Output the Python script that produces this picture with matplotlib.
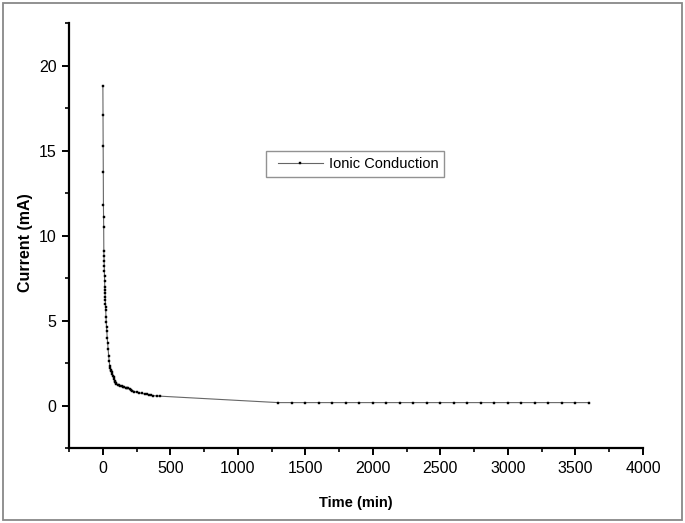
import matplotlib
matplotlib.use("Agg")
import matplotlib.pyplot as plt
from matplotlib.patches import Rectangle
from matplotlib.ticker import MultipleLocator
from matplotlib.legend_handler import HandlerLine2D

plt.rcParams['font.family'] = ['Liberation Sans', 'DejaVu Sans']

# Time (min)
time_min = [1, 2, 3, 4, 5, 6, 7, 8, 9, 10, 11, 12,
            13, 14, 15, 16, 17, 18, 19, 20, 21, 22,
            24, 26, 28, 30, 33, 36, 40, 44, 48, 52,
            56, 60, 64, 68, 72, 76, 80, 84, 88, 92, 96, 101,
            110, 120, 130, 140, 150, 160, 170, 180, 190, 200,
            210, 220, 235, 250, 270, 290, 310, 330, 345, 360, 375, 400, 423,
            1300, 1400, 1500, 1600, 1700, 1800, 1900, 2000, 2100, 2200,
            2300, 2400, 2500, 2600, 2700, 2800, 2900, 3000, 3100, 3200,
            3300, 3400, 3500, 3600]
# Current (mA)
current_ma = [18.8, 17.1, 15.25, 13.76, 11.8, 11.1, 10.5, 9.1, 8.8, 8.5, 8.2, 7.9,
              7.6, 7.3, 7.0, 6.8, 6.6, 6.4, 6.2, 6.0, 5.8, 5.6,
              5.2, 4.9, 4.6, 4.4, 4.0, 3.7, 3.3, 2.9, 2.6, 2.3,
              2.2, 2.1, 2.05, 1.95, 1.85, 1.75, 1.65, 1.55, 1.45, 1.38, 1.32, 1.27,
              1.22, 1.18, 1.15, 1.12, 1.1, 1.08, 1.05, 1.03, 1.01, 0.98,
              0.93, 0.88, 0.82, 0.78, 0.74, 0.71, 0.68, 0.65, 0.62, 0.6, 0.58, 0.56, 0.55,
              0.17, 0.17, 0.17, 0.17, 0.17, 0.17, 0.17, 0.17, 0.17, 0.17,
              0.17, 0.17, 0.17, 0.17, 0.17, 0.17, 0.17, 0.17, 0.17, 0.17,
              0.17, 0.17, 0.17, 0.17]

x_ticks = [0, 500, 1000, 1500, 2000, 2500, 3000, 3500, 4000]
y_ticks = [0, 5, 10, 15, 20]

fig = plt.figure(figsize=(6.85, 5.23), dpi=100)
ax = fig.add_axes([0.1007, 0.1434, 0.838, 0.8126])

ax.plot(time_min, current_ma, color='#666666', linewidth=0.8,
        marker='s', markersize=2.1, markerfacecolor='black',
        markeredgecolor='black', markeredgewidth=0.3,
        label='Ionic Conduction')

ax.set_xlim(-250, 4000)
ax.set_ylim(-2.5, 22.5)
ax.set_xticks(x_ticks)
ax.set_yticks(y_ticks)
ax.xaxis.set_minor_locator(MultipleLocator(250))
ax.yaxis.set_minor_locator(MultipleLocator(2.5))

for s in ['top', 'right']:
    ax.spines[s].set_visible(False)
for s in ['left', 'bottom']:
    ax.spines[s].set_linewidth(1.6)
    ax.spines[s].set_color('black')

ax.tick_params(which='major', direction='out', length=5, width=1.4, labelsize=11.5, pad=4)
ax.tick_params(which='minor', direction='out', length=3, width=1.2)

ax.set_xlabel('Time (min)', fontweight='bold', fontsize=10.5)
ax.set_ylabel('Current (mA)', fontweight='bold', fontsize=11.5)
ax.xaxis.set_label_coords(0.5, -0.113)
ax.yaxis.set_label_coords(-0.0627, 0.4835)

leg = ax.legend(loc='upper left', bbox_to_anchor=(0.344, 0.699), frameon=True,
                fancybox=False, fontsize=10.5, handlelength=3.46,
                borderpad=0.4, handletextpad=0.41, borderaxespad=0,
                handler_map={matplotlib.lines.Line2D: HandlerLine2D(xpad=0.41)})
leg.get_frame().set_edgecolor('#777777')
leg.get_frame().set_linewidth(1.0)

fig.patches.append(Rectangle((3/685, 3/523), 679/685, 517/523, transform=fig.transFigure,
                             fill=False, edgecolor='#888888', linewidth=1.3))

fig.savefig('out.png', dpi=100)
